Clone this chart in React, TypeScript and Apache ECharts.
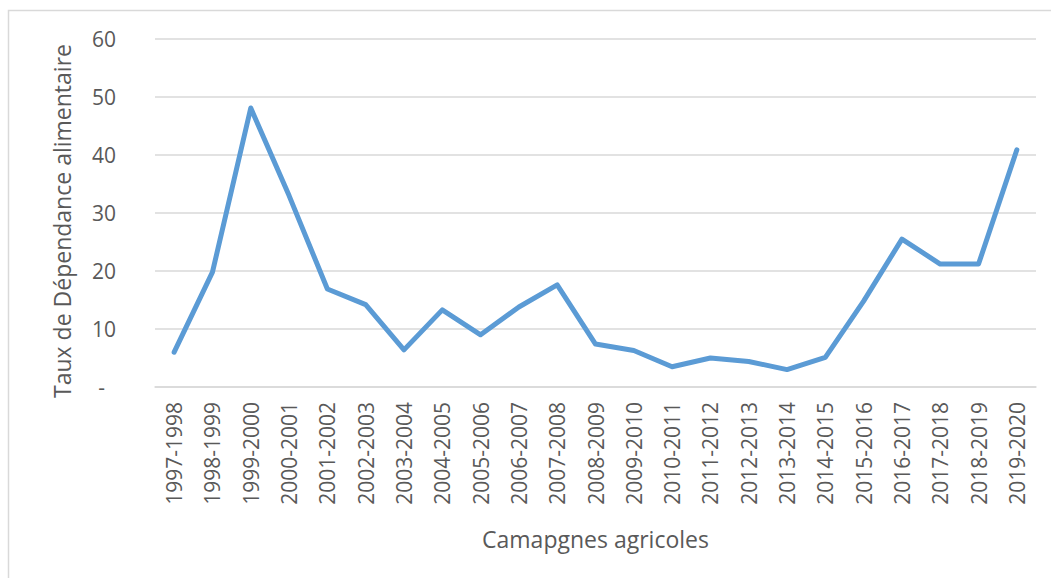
import React, { useEffect, useRef } from "react";
import * as echarts from "echarts";

const categories = [
  "1997-1998", "1998-1999", "1999-2000", "2000-2001", "2001-2002", "2002-2003",
  "2003-2004", "2004-2005", "2005-2006", "2006-2007", "2007-2008", "2008-2009",
  "2009-2010", "2010-2011", "2011-2012", "2012-2013", "2013-2014", "2014-2015",
  "2015-2016", "2016-2017", "2017-2018", "2018-2019", "2019-2020",
];
const values = [
  6.0, 19.8, 48.1, 33.0, 16.9, 14.2, 6.4, 13.3, 9.0, 13.8, 17.6, 7.4,
  6.3, 3.5, 5.0, 4.4, 3.0, 5.1, 14.8, 25.5, 21.2, 21.2, 40.9,
];
const yTicks = { min: 0, max: 60, interval: 10 };
const xAxisTitle = "Camapgnes agricoles";
const yAxisTitle = "Taux de Dépendance alimentaire";

export default function App() {
  const ref = useRef<HTMLDivElement>(null);
  useEffect(() => {
    if (!ref.current) return;
    const chart = echarts.init(ref.current, undefined, { renderer: "svg" });
    const font = "'Open Sans', sans-serif";
    const textColor = "#595959";
    chart.setOption({
      animation: false,
      backgroundColor: "#ffffff",
      graphic: [
        {
          type: "rect",
          shape: { x: 8.5, y: 10.5, width: 1200, height: 800 },
          style: { fill: "none", stroke: "#d9d9d9", lineWidth: 1.5 },
          silent: true,
        },
      ],
      grid: { left: 155, right: 15, top: 39, bottom: 191 },
      xAxis: {
        type: "category",
        data: categories,
        boundaryGap: true,
        axisLine: { show: true, lineStyle: { color: "#d9d9d9", width: 1.5 } },
        axisTick: { show: false },
        axisLabel: {
          rotate: 90,
          interval: 0,
          margin: 15,
          color: textColor,
          fontFamily: font,
          fontSize: 21,
        },
        name: xAxisTitle,
        nameLocation: "middle",
        nameGap: 140,
        nameTextStyle: { color: textColor, fontFamily: font, fontSize: 23 },
      },
      yAxis: {
        type: "value",
        min: yTicks.min,
        max: yTicks.max,
        interval: yTicks.interval,
        axisLine: { show: false },
        axisTick: { show: false },
        splitLine: { lineStyle: { color: "#d9d9d9", width: 1.5 } },
        axisLabel: {
          margin: 39,
          color: textColor,
          fontFamily: font,
          fontSize: 21,
          formatter: (v: number) => (v === 0 ? "{d|-}" : String(v)),
          rich: {
            d: { color: textColor, fontFamily: font, fontSize: 21, padding: [0, 11, 0, 0] },
          },
        },
        name: yAxisTitle,
        nameLocation: "middle",
        nameGap: 82,
        nameTextStyle: {
          color: textColor,
          fontFamily: font,
          fontSize: 23,
          padding: [0, 16, 0, 0],
        },
      },
      series: [
        {
          type: "line",
          data: values,
          showSymbol: false,
          symbol: "none",
          lineStyle: { color: "#5B9BD5", width: 5, cap: "round", join: "round" },
        },
      ],
    });
    return () => chart.dispose();
  }, []);
  return (
    <div
      ref={ref}
      style={{ position: "fixed", left: 0, top: 0, width: 1051, height: 578 }}
    />
  );
}
